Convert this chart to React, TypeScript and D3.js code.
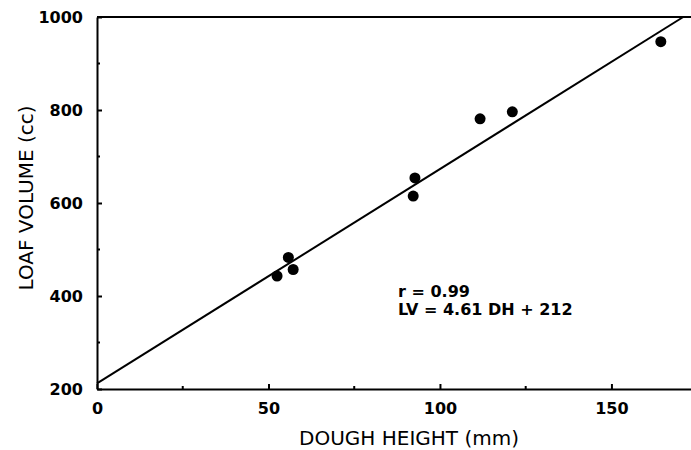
import React, { useEffect, useRef } from 'react';
import * as d3 from 'd3';

// values
const doughHeight = [52.5, 55.8, 57.2, 92.2, 92.7, 111.7, 121.1, 164.4];
const loafVolume = [443, 483, 457, 615, 654, 781, 796, 947];

const xMajorTicks = [0, 50, 100, 150];
const xMinorTicks = [25, 75, 125];
const yMajorTicks = [200, 400, 600, 800, 1000];
const yMinorTicks = [300, 500, 700, 900];

const slope = 4.61;
const intercept = 212;
const annotations = ['r = 0.99', 'LV = 4.61 DH + 212'];

const FONT = '"DejaVu Sans", Verdana, sans-serif';

const App: React.FC = () => {
  const svgRef = useRef<SVGSVGElement>(null);

  useEffect(() => {
    if (!svgRef.current) return;
    const svg = d3.select(svgRef.current);
    svg.selectAll('*').remove();

    const width = 691;
    const height = 450;
    svg.attr('width', width).attr('height', height);

    const x = d3.scaleLinear().domain([0, 173.2]).range([97, 691]);
    const y = d3.scaleLinear().domain([200, 1000]).range([389, 17]);

    // top border line
    svg.append('line')
      .attr('x1', x(0)).attr('x2', x(173.2))
      .attr('y1', y(1000)).attr('y2', y(1000))
      .attr('stroke', '#000').attr('stroke-width', 2);

    // x axis
    const xAxis = svg.append('g')
      .attr('transform', `translate(0,${y(200)})`)
      .call(d3.axisBottom(x).tickValues(xMajorTicks).tickSize(-5).tickSizeOuter(0).tickPadding(14).tickFormat(d3.format('d')));

    xMinorTicks.forEach(t => {
      xAxis.append('line')
        .attr('x1', x(t)).attr('x2', x(t))
        .attr('y1', 0).attr('y2', -3)
        .attr('stroke', '#000').attr('stroke-width', 2);
    });

    // y axis
    const yAxis = svg.append('g')
      .attr('transform', `translate(${x(0)},0)`)
      .call(d3.axisLeft(y).tickValues(yMajorTicks).tickSize(-5).tickSizeOuter(0).tickPadding(14).tickFormat(d3.format('d')));

    yMinorTicks.forEach(t => {
      yAxis.append('line')
        .attr('x1', 0).attr('x2', 3)
        .attr('y1', y(t)).attr('y2', y(t))
        .attr('stroke', '#000').attr('stroke-width', 2);
    });

    [xAxis, yAxis].forEach(a => {
      a.select('.domain').attr('stroke', '#000').attr('stroke-width', 2);
      a.selectAll('.tick line').attr('stroke', '#000').attr('stroke-width', 2);
      a.selectAll('.tick text')
        .attr('fill', '#000')
        .style('font-family', FONT)
        .style('font-weight', 'bold')
        .style('font-size', '16px');
    });

    // regression line
    const xEnd = (1000 - intercept) / slope;
    svg.append('path')
      .datum([0, xEnd])
      .attr('fill', 'none')
      .attr('stroke', '#000')
      .attr('stroke-width', 2)
      .attr('d', d3.line<number>()
        .x(d => x(d))
        .y(d => y(slope * d + intercept)));

    // data points
    svg.selectAll('.dot')
      .data(doughHeight.map((d, i) => [d, loafVolume[i]]))
      .join('circle')
      .attr('class', 'dot')
      .attr('cx', d => x(d[0]))
      .attr('cy', d => y(d[1]))
      .attr('r', 5.5)
      .attr('fill', '#000');

    // annotation
    svg.selectAll('.note')
      .data(annotations)
      .join('text')
      .attr('class', 'note')
      .attr('x', 398)
      .attr('y', (d, i) => 297 + i * 18)
      .text(d => d)
      .attr('fill', '#000')
      .style('font-family', FONT)
      .style('font-weight', 'bold')
      .style('font-size', '16px');

    // axis titles
    svg.append('text')
      .attr('x', 409)
      .attr('y', 445)
      .attr('text-anchor', 'middle')
      .text('DOUGH HEIGHT (mm)')
      .attr('fill', '#000')
      .style('font-family', FONT)
      .style('font-size', '20px');

    svg.append('text')
      .attr('transform', 'translate(33,198) rotate(-90)')
      .attr('text-anchor', 'middle')
      .text('LOAF VOLUME (cc)')
      .attr('fill', '#000')
      .style('font-family', FONT)
      .style('font-size', '20px');
  }, []);

  return (
    <div style={{ position: 'fixed', top: 0, left: 0, background: '#fff' }}>
      <svg ref={svgRef} style={{ display: 'block' }} />
    </div>
  );
};

export default App;
